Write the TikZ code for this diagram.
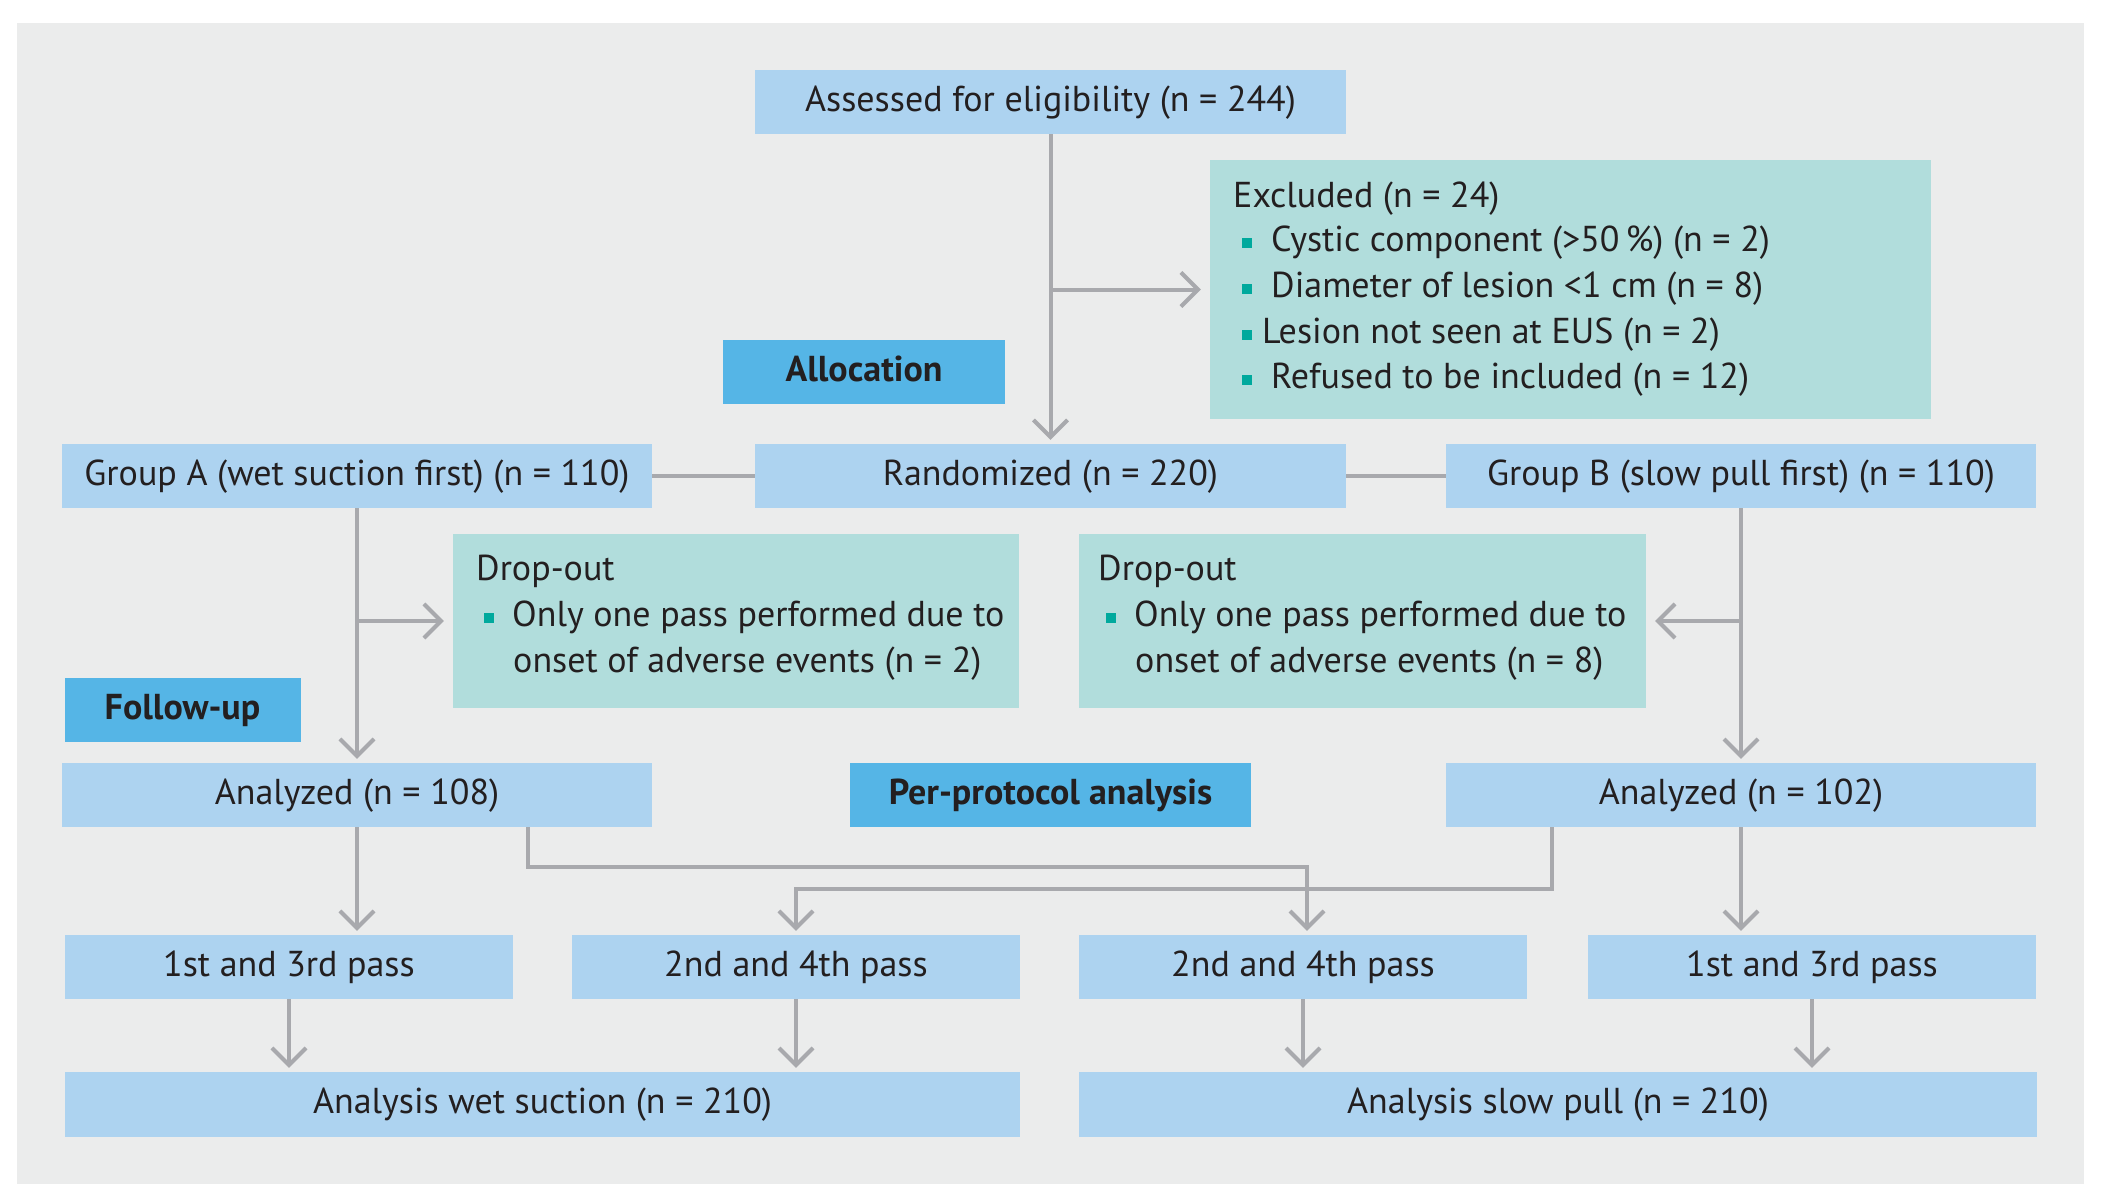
\documentclass[tikz,border=0pt]{standalone}
\usepackage{fontspec}
\setmainfont{PT Sans}
\usetikzlibrary{arrows.meta}
\definecolor{bgc}{HTML}{EBECEC}
\definecolor{lblue}{HTML}{ADD3F0}
\definecolor{tealbox}{HTML}{B1DDDC}
\definecolor{hblue}{HTML}{55B5E6}
\definecolor{lnc}{HTML}{A8A9AD}
\definecolor{bulc}{HTML}{00A99D}
\definecolor{txt}{HTML}{231F20}
\newcommand{\mybul}{\textcolor{bulc}{\rule[3pt]{10pt}{10pt}}}
\begin{document}
\begin{tikzpicture}[x=1pt,y=-1pt,
  box/.style={inner sep=0pt, minimum height=64pt, text height=24pt, text depth=6pt,
    font=\fontsize{36}{43}\selectfont, text=txt},
  lb/.style={box, fill=lblue},
  hb/.style={box, fill=hblue, font=\fontsize{36}{43}\selectfont\bfseries},
  tb/.style={inner sep=0pt, fill=tealbox},
  tx/.style={anchor=base west, inner sep=0pt, font=\fontsize{36}{43}\selectfont, text=txt},
  ln/.style={draw=lnc, line width=4pt},
  arr/.style={ln, -{Straight Barb[length=17pt,width=34pt]}, shorten >=4pt}
]
\useasboundingbox (0,0) rectangle (2116,1197);
\fill[bgc] (17,23) rectangle (2084,1184);

% boxes
\node[lb, minimum width=591pt] (assess) at (1050.5,102) {Assessed for eligibility (n = 244)};
\node[tb, minimum width=721pt, minimum height=259pt] (excl) at (1570.5,289.5) {};
\node[hb, minimum width=282pt] (alloc) at (864,372) {Allocation};
\node[lb, minimum width=590pt] (grpA) at (357,476) {Group A (wet suction first) (n = 110)};
\node[lb, minimum width=591pt] (rand) at (1050.5,476) {Randomized (n = 220)};
\node[lb, minimum width=590pt] (grpB) at (1741,476) {Group B (slow pull first) (n = 110)};
\node[tb, minimum width=566pt, minimum height=174pt] (dropA) at (736,621) {};
\node[tb, minimum width=567pt, minimum height=174pt] (dropB) at (1362.5,621) {};
\node[hb, minimum width=236pt] (follow) at (182.5,710) {Follow-up};
\node[lb, minimum width=590pt] (anaA) at (357,795) {Analyzed (n = 108)};
\node[hb, minimum width=401pt] (pp) at (1050.5,795) {Per-protocol analysis};
\node[lb, minimum width=590pt] (anaB) at (1741,795) {Analyzed (n = 102)};
\node[lb, minimum width=448pt] (p1) at (289,967) {1st and 3rd pass};
\node[lb, minimum width=448pt] (p2) at (796,967) {2nd and 4th pass};
\node[lb, minimum width=448pt] (p3) at (1303,967) {2nd and 4th pass};
\node[lb, minimum width=448pt] (p4) at (1812,967) {1st and 3rd pass};
\node[lb, minimum width=955pt, minimum height=65pt] (anlA) at (542.5,1104.5) {Analysis wet suction (n = 210)};
\node[lb, minimum width=958pt, minimum height=65pt] (anlB) at (1558,1104.5) {Analysis slow pull (n = 210)};

% texts of the multi-line boxes
\node[tx] (ex0) at (1233,207) {Excluded (n = 24)};
\node[tx] (ex1) at (1242,251) {\mybul\hspace{19pt}Cystic component (>50\,\%) (n = 2)};
\node[tx] (ex2) at (1242,297) {\mybul\hspace{19pt}Diameter of lesion <1 cm (n = 8)};
\node[tx] (ex3) at (1242,343) {\mybul\hspace{10pt}Lesion not seen at EUS (n = 2)};
\node[tx] (ex4) at (1242,388) {\mybul\hspace{19pt}Refused to be included (n = 12)};

\node[tx] (da0) at (476,580) {Drop-out};
\node[tx] (da1) at (484,626) {\mybul\hspace{18pt}Only one pass performed due to};
\node[tx] (da2) at (513,672) {onset of adverse events (n = 2)};

\node[tx] (db0) at (1098,580) {Drop-out};
\node[tx] (db1) at (1106,626) {\mybul\hspace{18pt}Only one pass performed due to};
\node[tx] (db2) at (1135,672) {onset of adverse events (n = 8)};

% connectors
\draw[arr] (assess.south) -- (rand.north);
\draw[arr, shorten >=9pt] (assess.south |- excl.west) -- (excl.west);
\draw[ln] (rand.west) -- (grpA.east);
\draw[ln] (rand.east) -- (grpB.west);
\draw[arr] (grpA.south) -- (anaA.north);
\draw[arr, shorten >=9pt] (grpA.south |- dropA.west) -- (dropA.west);
\draw[arr] (grpB.south) -- (anaB.north);
\draw[arr, shorten >=9pt] (grpB.south |- dropB.east) -- (dropB.east);
\draw[arr] (anaA.south) -- (anaA.south |- p1.north);
\draw[arr] ([xshift=171pt]anaA.south) -- ++(0,40) -| ([xshift=4pt]p3.north);
\draw[arr] ([xshift=-189pt]anaB.south) -- ++(0,62) -| (p2.north);
\draw[arr] (anaB.south) -- (anaB.south |- p4.north);
\draw[arr] (p1.south) -- (p1.south |- anlA.north);
\draw[arr] (p2.south) -- (p2.south |- anlA.north);
\draw[arr] (p3.south) -- (p3.south |- anlB.north);
\draw[arr] (p4.south) -- (p4.south |- anlB.north);
\end{tikzpicture}
\end{document}
